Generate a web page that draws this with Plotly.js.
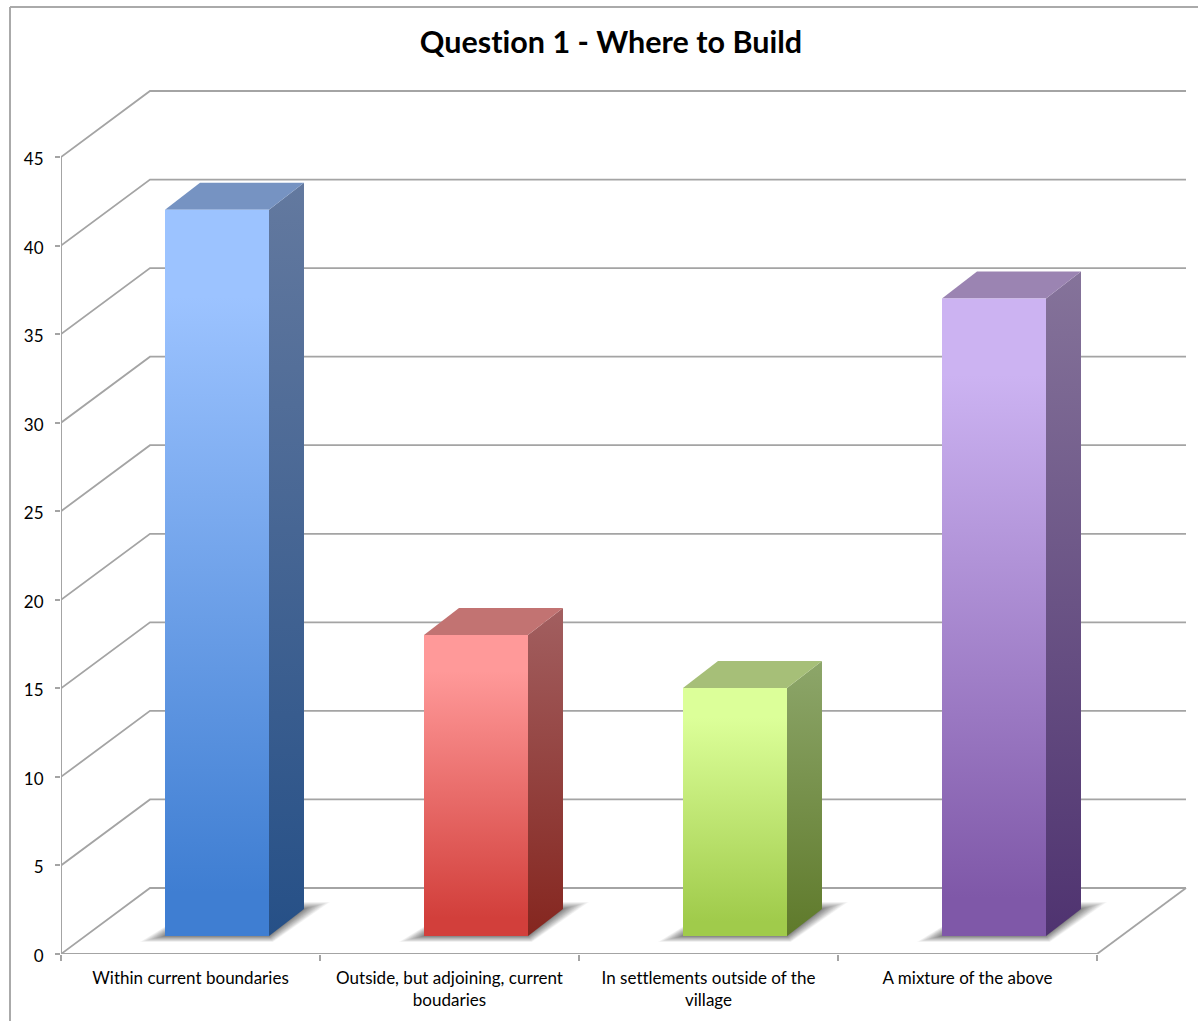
<!DOCTYPE html>
<html>
<head>
<meta charset="utf-8">
<script src="https://cdn.plot.ly/plotly-3.0.1.min.js"></script>
<style>
html,body{margin:0;padding:0;background:#fff}
#chart{width:1198px;height:1021px}
svg text{letter-spacing:0.01px}
g.ytick{transform:translateY(2px)}
</style>
</head>
<body>
<div id="chart"></div>
<script>
// Survey responses
const categories = ['Within current boundaries', 'Outside, but adjoining, current<br>boudaries', 'In settlements outside of the<br>village', 'A mixture of the above'];
const responses = [41, 17, 14, 36];
const yTicks = [0, 5, 10, 15, 20, 25, 30, 35, 40, 45];
const chartTitle = 'Question 1 - Where to Build';

// Face colours per bar: front gradient, side gradient, top
const frontTop = ['#9cc3ff', '#ff9999', '#dcff99', '#ccb3f2'];
const frontBottom = ['#3f7ed2', '#d23f3b', '#a0cb4b', '#7f58a8'];
const sideTop = ['#63799f', '#a25f60', '#8da66a', '#85739a'];
const sideBottom = ['#265087', '#85261f', '#5f7a2b', '#4f3370'];
const topFace = ['#7693c2', '#c27372', '#a6bf78', '#9b84b2'];

// Oblique projection scales
const W = 1198, H = 1021;
const plotLeft = 61, plotRight = 1190, plotTop = 85, plotBottom = 954;
const pxPerCat = 259, pxPerUnit = 797 / 45;
const gx = px => px / pxPerCat, gy = px => px / pxPerUnit;
const wallDx = gx(89), wallDy = gy(66);
const barOffset = gx(104), barWidth = gx(104), barBase = gy(18);
const depthDx = gx(35), depthDy = gy(27);
const gridColor = '#a4a4a4';
const traces = [];

const poly = (xs, ys, extra) => Object.assign({
  x: xs.concat(xs[0]), y: ys.concat(ys[0]), type: 'scatter', mode: 'lines',
  line: {width: 0}, fill: 'toself', hoverinfo: 'skip', showlegend: false, cliponaxis: false
}, extra);
const path = (xs, ys, width) => ({
  x: xs, y: ys, type: 'scatter', mode: 'lines', line: {color: gridColor, width: width || 1.8},
  hoverinfo: 'skip', showlegend: false, cliponaxis: false
});

// Side wall and back wall gridlines
const lastCat = categories.length;
yTicks.forEach(v => {
  traces.push(path([0, wallDx, lastCat + wallDx], [v, v + wallDy, v + wallDy]));
});
// Floor edge, value axis line, category baseline
traces.push(path([lastCat, lastCat + wallDx], [0, wallDy]));
traces.push(path([0, 0], [0, 45], 2));
traces.push(Object.assign(path([0, lastCat], [0, 0], 2.2), {xaxis: 'x2'}));

// Bars
responses.forEach((v, i) => {
  const x0 = i + barOffset, x1 = x0 + barWidth, b = barBase, t = barBase + v;

  // Soft contact shadow built from nested translucent layers, denser towards the bar
  const layers = 22;
  for (let k = 0; k < layers; k++) {
    const f = Math.pow(1 - k / layers, 1.4);
    traces.push(poly(
      [x0 - gx(25) * f, x1 + gx(4) * f, x1 + depthDx + gx(26) * f, x0 + depthDx + gx(5) * f],
      [b - gy(6) * f, b - gy(6) * f, b + depthDy + gy(7) * f, b + depthDy + gy(7) * f],
      {fillcolor: 'rgba(50,50,50,0.04)'}
    ));
  }

  // Side face
  traces.push(poly(
    [x1, x1 + depthDx, x1 + depthDx, x1],
    [b, b + depthDy, t + depthDy, t],
    {fillgradient: {type: 'vertical', colorscale: [[0, sideBottom[i]], [1, sideTop[i]]]}}
  ));
  // Top face
  traces.push(poly(
    [x0, x1, x1 + depthDx, x0 + depthDx],
    [t, t, t + depthDy, t + depthDy],
    {fillcolor: topFace[i]}
  ));
  // Front face
  traces.push(poly(
    [x0, x1, x1, x0],
    [b, b, t, t],
    {fillgradient: {type: 'vertical', colorscale: [[0, frontBottom[i]], [0.06, frontBottom[i]], [0.88, frontTop[i]], [1, frontTop[i]]]}}
  ));
});

const xRange = [0, (plotRight - plotLeft) / pxPerCat];
const yRange = [0, (plotBottom - plotTop) / pxPerUnit];

const layout = {
  width: W, height: H,
  margin: {l: plotLeft, r: W - plotRight, t: plotTop, b: H - plotBottom, pad: 0},
  paper_bgcolor: '#fff', plot_bgcolor: 'rgba(0,0,0,0)',
  font: {family: 'Lato, Carlito, sans-serif', color: '#000', size: 17},
  showlegend: false,
  title: {
    text: '<b>' + chartTitle + '</b>',
    x: 611 / W, xref: 'container', xanchor: 'center',
    y: 1 - 42 / H, yref: 'container', yanchor: 'middle',
    font: {size: 30.5, family: 'Lato, Carlito, sans-serif', color: '#000'}
  },
  xaxis: {
    range: xRange, tickmode: 'array', fixedrange: true,
    tickvals: categories.map((c, i) => i + 0.5), ticktext: categories,
    ticks: '', showgrid: false, zeroline: false, showline: false, tickangle: 0,
    ticklabelstandoff: 12, tickfont: {size: 17, color: '#000'}
  },
  xaxis2: {
    overlaying: 'x', matches: 'x', anchor: 'y', side: 'bottom', fixedrange: true,
    tickmode: 'array', tickvals: categories.concat('').map((c, i) => i), ticktext: categories.concat('').map(() => ''),
    ticks: 'outside', ticklen: 6, tickcolor: gridColor, tickwidth: 1.5,
    showgrid: false, zeroline: false, showline: false
  },
  yaxis: {
    range: yRange, tickmode: 'array', fixedrange: true,
    tickvals: yTicks, ticktext: yTicks.map(String),
    ticks: 'outside', ticklen: 5, tickcolor: gridColor, tickwidth: 1.5,
    ticklabelstandoff: 8, tickfont: {size: 17, color: '#000'},
    showgrid: false, zeroline: false, showline: false
  },
  // Chart area border along the top and left
  shapes: [
    {type: 'line', xref: 'paper', yref: 'paper', layer: 'below',
     x0: (10 - plotLeft) / (plotRight - plotLeft), x1: (W - plotLeft) / (plotRight - plotLeft),
     y0: (plotBottom - 7) / (plotBottom - plotTop), y1: (plotBottom - 7) / (plotBottom - plotTop),
     line: {color: '#aaaaaa', width: 2}},
    {type: 'line', xref: 'paper', yref: 'paper', layer: 'below',
     x0: (10 - plotLeft) / (plotRight - plotLeft), x1: (10 - plotLeft) / (plotRight - plotLeft),
     y0: (plotBottom - 7) / (plotBottom - plotTop), y1: (plotBottom - H) / (plotBottom - plotTop),
     line: {color: '#aaaaaa', width: 2}}
  ]
};

Plotly.newPlot('chart', traces, layout, {displayModeBar: false, responsive: false});
</script>
</body>
</html>
